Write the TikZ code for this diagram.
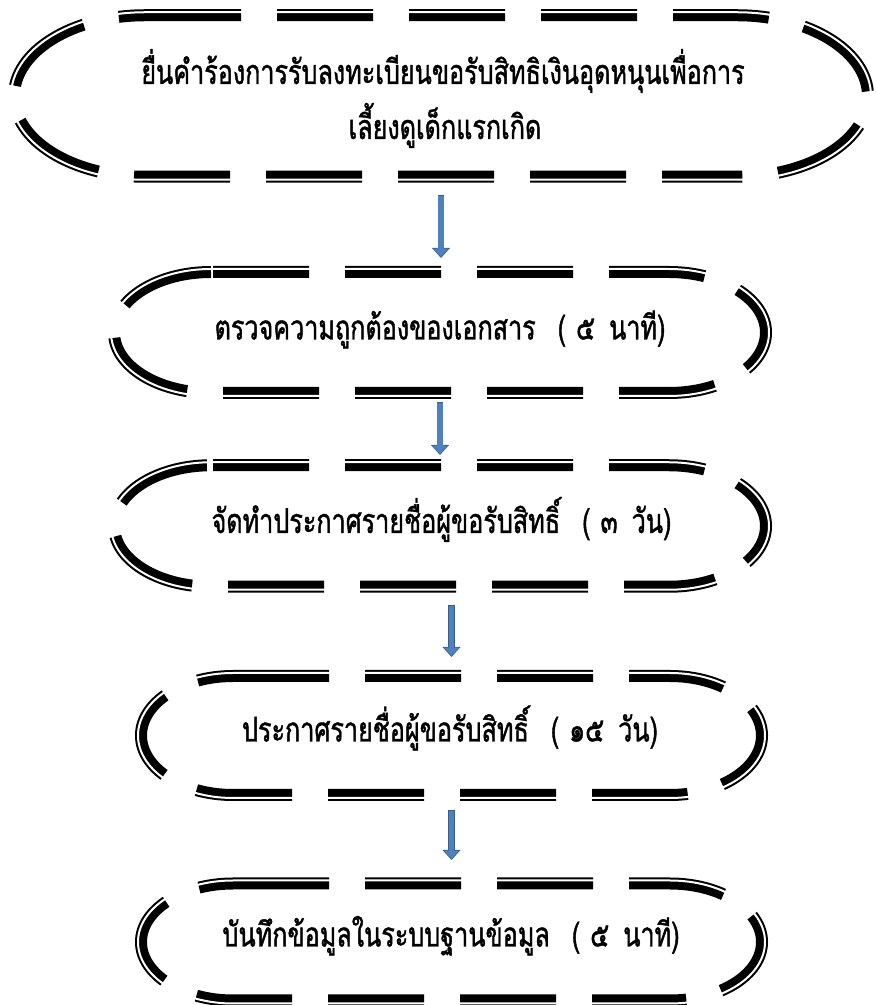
\documentclass[tikz,border=0pt]{standalone}
\usepackage{fontspec}
\newfontfamily\thaifont[Script=Thai, FakeStretch=0.74, FakeBold=1.2]{Loma}
\usetikzlibrary{arrows.meta,calc}
\definecolor{arrowfill}{HTML}{4F81BD}
\definecolor{arrowedge}{HTML}{385D8A}
% #1 node, #2 rx, #3 ry, #4 dash phase (top + right end), #5 dash phase (bottom + left end)
\newcommand{\termborder}[5]{%
  \pgfmathsetmacro{\rxo}{#2+3}\pgfmathsetmacro{\ryo}{#3+3}%
  \draw[termline, dash phase=#4pt] ([xshift=#2pt]#1.north west) -- ([xshift=-#2pt]#1.north east)
     arc[start angle=90, end angle=-90, x radius=#2, y radius=#3];
  \draw[termline, dash phase=#5pt] ([xshift=-#2pt]#1.south east) -- ([xshift=#2pt]#1.south west)
     arc[start angle=270, end angle=90, x radius=#2, y radius=#3];
  \draw[whiteline] ([xshift=#2pt,yshift=3pt]#1.north west) -- ([xshift=-#2pt,yshift=3pt]#1.north east)
     arc[start angle=90, end angle=-90, x radius=\rxo, y radius=\ryo]
     -- ([xshift=#2pt,yshift=-3pt]#1.south west)
     arc[start angle=270, end angle=90, x radius=\rxo, y radius=\ryo] -- cycle;
}
\newcommand{\flowarrow}[4]{%
  \draw[arrowout, shorten <=#3pt, shorten >=#4pt] (#1) -- (#2);
  \draw[arrowin, shorten <=#3pt+0.75pt, shorten >=#4pt+1.12pt] (#1) -- (#2);
}
\newcommand{\tgap}[3]{\hspace{22pt}(\hspace{10pt}#1\hspace{14pt}#2)}
\begin{document}
\begin{tikzpicture}[x=1pt,y=1pt,
  shapebox/.style={draw=none, inner sep=0pt, outer sep=0pt},
  termline/.style={draw=black, line width=12pt, dash pattern=on 96pt off 36pt},
  whiteline/.style={draw=white, line width=2pt},
  lbl/.style={font=\thaifont\fontsize{34pt}{40pt}\selectfont, inner sep=0pt, anchor=base},
  arrowout/.style={draw=arrowedge, line width=6.7pt, -{Triangle[width=18pt,length=10pt,line width=0pt]}},
  arrowin/.style={draw=arrowfill, line width=5.2pt, -{Triangle[width=14.6pt,length=8.13pt,line width=0pt]}}]
\useasboundingbox (0,0) rectangle (876,1005);

\node[shapebox, minimum width=854pt, minimum height=161.5pt] (s1) at (441,909) {};
\node[shapebox, minimum width=652pt, minimum height=121pt] (s2) at (440,672.5) {};
\node[shapebox, minimum width=652pt, minimum height=121.5pt] (s3) at (440,479) {};
\node[shapebox, minimum width=621pt, minimum height=119pt] (s4) at (451.5,269.5) {};
\node[shapebox, minimum width=621pt, minimum height=117pt] (s5) at (451.5,63) {};

\termborder{s1}{131}{80.75}{0}{21}
\termborder{s2}{97}{60.5}{130}{46}
\termborder{s3}{97}{60.75}{130}{51}
\termborder{s4}{92}{59.5}{0}{18}
\termborder{s5}{92}{58.5}{0}{18}

\node[lbl] (t1a) at (443,921) {ยื่นคำร้องการรับลงทะเบียนขอรับสิทธิเงินอุดหนุนเพื่อการ};
\node[lbl] (t1b) at (445,866) {เลี้ยงดูเด็กแรกเกิด};
\node[lbl] (t2) at (440,665.5) {ตรวจความถูกต้องของเอกสาร\tgap{๕}{นาที}{}};
\node[lbl] (t3) at (441.5,472) {จัดทำประกาศรายชื่อผู้ขอรับสิทธิ์\tgap{๓}{วัน}{}};
\node[lbl] (t4) at (450,263.5) {ประกาศรายชื่อผู้ขอรับสิทธิ์\tgap{๑๕}{วัน}{}};
\node[lbl] (t5) at (451,58.5) {บันทึกข้อมูลในระบบฐานข้อมูล\tgap{๕}{นาที}{}};

\flowarrow{s1.south}{s1.south |- s2.north}{18.25}{14}
\flowarrow{s2.south}{s2.south |- s3.north}{9.5}{10.25}
\flowarrow{s4.north |- s3.south}{s4.north}{18.25}{19}
\flowarrow{s4.south}{s4.south |- s5.north}{15}{23.5}
\end{tikzpicture}
\end{document}
